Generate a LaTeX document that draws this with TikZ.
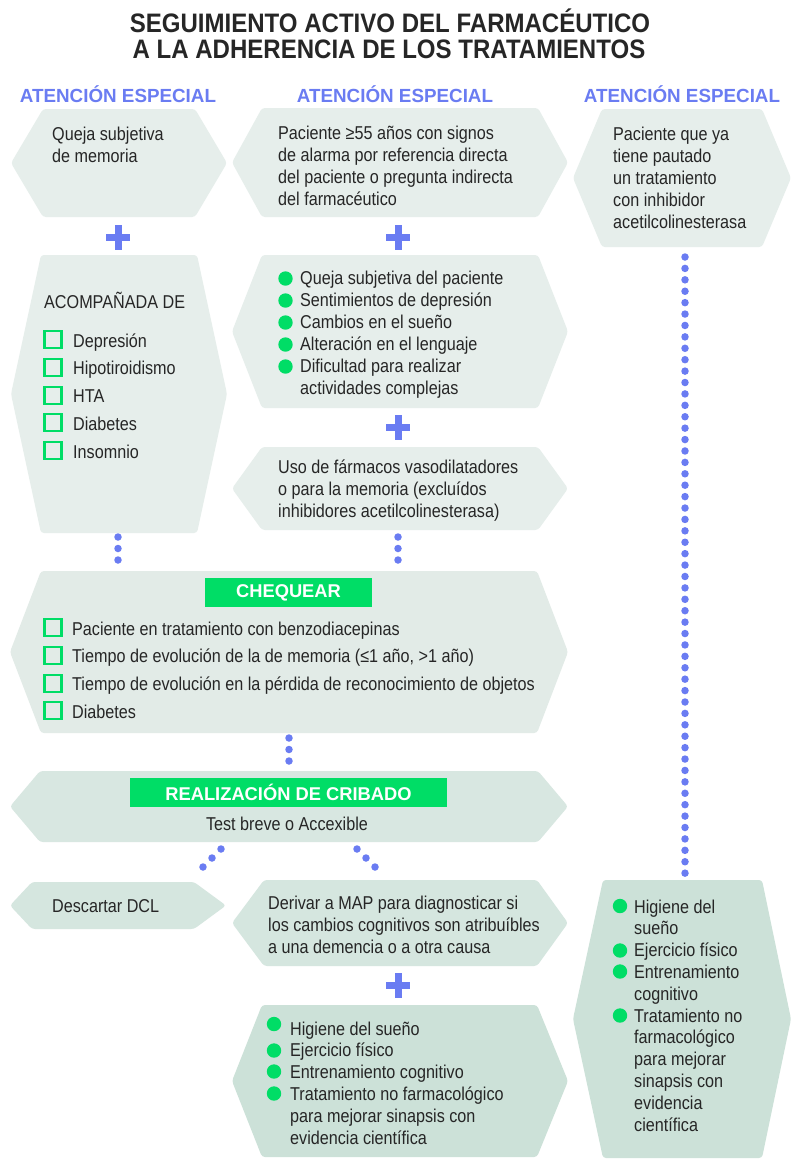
\documentclass[tikz,border=0pt]{standalone}
\usepackage{fontspec}
\setmainfont{Liberation Sans}[FakeStretch=0.87]
\newfontfamily\titlef{Liberation Sans}[FakeStretch=0.9]
\newfontfamily\headf{Liberation Sans}[FakeStretch=0.99]
\definecolor{ink}{HTML}{262626}
\definecolor{accblue}{HTML}{6A7CF2}
\definecolor{accgreen}{HTML}{00DD66}
\definecolor{hexlight}{HTML}{E6EEEB}
\definecolor{hexchk}{HTML}{E2EBE7}
\definecolor{hexreal}{HTML}{D8E7E1}
\definecolor{hexmid}{HTML}{D5E6DF}
\definecolor{hexdark}{HTML}{CCE1D8}
\newcommand\ml[1]{\begin{tabular}[t]{@{}l@{}}#1\end{tabular}}
% fill, x1, y1, x2, y2, left inset, right inset
\newcommand\hexa[7]{\fill[#1, rounded corners=3pt] (#2+#6,#3) -- (#4-#7,#3) -- (#4,{(#3+#5)/2}) -- (#4-#7,#5) -- (#2+#6,#5) -- (#2,{(#3+#5)/2}) -- cycle;}
\newcommand\plusat[2]{\fill[accblue] (#1-12,#2-3.5) rectangle (#1+12,#2+3.5); \fill[accblue] (#1-3.5,#2-12.5) rectangle (#1+3.5,#2+12.5);}
\newcommand\cbox[2]{\draw[accgreen, line width=2.6pt] (#1-8.6,#2-8.6) rectangle (#1+8.6,#2+8.6);}
\newcommand\bul[2]{\fill[accgreen] (#1,#2) circle (7.2);}
\tikzset{
  txt/.style={text=ink, inner sep=0pt, anchor=base west, font=\fontsize{18.6}{22}\selectfont},
  txtb/.style={text=ink, inner sep=0pt, anchor=base west, font=\fontsize{18.6}{21.8}\selectfont},
  chkl/.style={text=ink, inner sep=0pt, anchor=base west, font=\fontsize{18.6}{27.8}\selectfont},
  head/.style={text=accblue, inner sep=0pt, anchor=base, font=\headf\bfseries\fontsize{19}{22}\selectfont},
  ttl/.style={text=ink, inner sep=0pt, anchor=base, font=\titlef\bfseries\fontsize{26.7}{26}\selectfont},
  gtag/.style={fill=accgreen, text=white, inner sep=0pt, font=\headf\bfseries\fontsize{18.5}{20}\selectfont},
  dots/.style={draw=accblue, line width=7.5pt, line cap=round, dash pattern=on 0pt off 11.5pt},
  ddots/.style={draw=accblue, line width=7.5pt, line cap=round, dash pattern=on 0pt off 12.73pt}
}
\begin{document}
\begin{tikzpicture}[x=1pt,y=-1pt]
\useasboundingbox (0,0) rectangle (800,1168);
\fill[white] (0,0) rectangle (800,1168);
% title
\node[ttl] (title1) at (390,32.5) {SEGUIMIENTO ACTIVO DEL FARMACÉUTICO};
\node[ttl] (title2) at (389,58.5) {A LA ADHERENCIA DE LOS TRATAMIENTOS};
\node[head] (hA) at (118,102) {ATENCIÓN ESPECIAL};
\node[head] (hB) at (395,102) {ATENCIÓN ESPECIAL};
\node[head] (hC) at (682,102) {ATENCIÓN ESPECIAL};
% shapes
\hexa{hexlight}{11}{109}{227}{217}{32}{32}
\hexa{hexlight}{232}{108}{568}{217}{30}{30}
\hexa{hexlight}{573}{109}{791}{247}{29}{29}
\hexa{hexlight}{11}{255}{227}{533}{30}{30}
\hexa{hexlight}{232}{255}{568}{408}{30}{30}
\hexa{hexlight}{232}{447}{568}{530}{30}{30}
\hexa{hexchk}{10}{571}{568}{733}{31}{31}
\hexa{hexreal}{10}{771}{568}{842}{30}{30}
\hexa{hexmid}{10}{882}{226}{929}{22}{32}
\hexa{hexmid}{232}{880}{568}{966}{32}{31}
\hexa{hexdark}{232}{1005}{568}{1157}{30}{31}
\hexa{hexdark}{573}{880}{791}{1158}{30}{29}
% connector coordinates
\coordinate (dA1) at (118,537); \coordinate (dA2) at (118,561.5);
\coordinate (dB1) at (398,537); \coordinate (dB2) at (398,561.5);
\coordinate (dC1) at (289,738); \coordinate (dC2) at (289,762.5);
\coordinate (dD1) at (221,849); \coordinate (dD2) at (202.7,867.3);
\coordinate (dE1) at (357,849); \coordinate (dE2) at (375.3,867.3);
\coordinate (dR1) at (685,257); \coordinate (dR2) at (685,873.5);
\draw[dots] (dA1) -- (dA2);
\draw[dots] (dB1) -- (dB2);
\draw[dots] (dC1) -- (dC2);
\draw[ddots] (dD1) -- (dD2);
\draw[ddots] (dE1) -- (dE2);
\draw[draw=accblue, line width=7.5pt, line cap=round, dash pattern=on 0pt off 11.41pt] (dR1) -- (dR2);
% plus signs
\plusat{118}{237}
\plusat{398}{237}
\plusat{398}{427}
\plusat{398}{985}
% texts top row
\node[txt] (q1) at (52,140) {\ml{Queja subjetiva\\de memoria}};
\node[txt] (p1) at (278,139) {\ml{Paciente ≥55 años con signos\\de alarma por referencia directa\\del paciente o pregunta indirecta\\del farmacéutico}};
\node[txt] (r1) at (613,140) {\ml{Paciente que ya\\tiene pautado\\un tratamiento\\con inhibidor\\acetilcolinesterasa}};
% acompañada
\node[txt] (ac) at (44,308) {ACOMPAÑADA DE};
\foreach \yy in {347,375,403,430,458} {\cbox{53}{\yy-7.5}}
\node[chkl] (acl) at (73,347) {\ml{Depresión\\Hipotiroidismo\\HTA\\Diabetes\\Insomnio}};
% bullets middle
\foreach \yy in {284,306,328,350,372} {\bul{285.5}{\yy-5.5}}
\node[txt] (bl) at (300,284) {\ml{Queja subjetiva del paciente\\Sentimientos de depresión\\Cambios en el sueño\\Alteración en el lenguaje\\Dificultad para realizar\\actividades complejas}};
\node[txt] (uso) at (278,473) {\ml{Uso de fármacos vasodilatadores\\o para la memoria (excluídos\\inhibidores acetilcolinesterasa)}};
% chequear
\node[gtag, minimum width=167pt, minimum height=29pt] (chq) at (288.5,592.5) {CHEQUEAR};
\foreach \yy in {635,663,691,718} {\cbox{53}{\yy-7.5}}
\node[chkl] (chl) at (72,635) {\ml{Paciente en tratamiento con benzodiacepinas\\Tiempo de evolución de la de memoria (≤1 año, >1 año)\\Tiempo de evolución en la pérdida de reconocimiento de objetos\\Diabetes}};
% cribado
\node[gtag, minimum width=317pt, minimum height=29pt] (crib) at (288.5,792.5) {REALIZACIÓN DE CRIBADO};
\node[txt, anchor=base] (test) at (287,830) {Test breve o Accexible};
% results
\node[txt] (desc) at (52,912) {Descartar DCL};
\node[txt] (deriv) at (268,909) {\ml{Derivar a MAP para diagnosticar si\\los cambios cognitivos son atribuíbles\\a una demencia o a otra causa}};
% bottom middle list
\bul{274}{1024}
\foreach \yy in {1057,1078,1100} {\bul{274}{\yy-6.5}}
\node[txtb] (bm) at (290,1035) {\ml{Higiene del sueño\\Ejercicio físico\\Entrenamiento cognitivo\\Tratamiento no farmacológico\\para mejorar sinapsis con\\evidencia científica}};
% bottom right list
\bul{620}{906}
\foreach \yy in {957,978,1022} {\bul{620}{\yy-6.5}}
\node[txtb] (br) at (634,913) {\ml{Higiene del\\sueño\\Ejercicio físico\\Entrenamiento\\cognitivo\\Tratamiento no\\farmacológico\\para mejorar\\sinapsis con\\evidencia\\científica}};
\end{tikzpicture}
\end{document}
